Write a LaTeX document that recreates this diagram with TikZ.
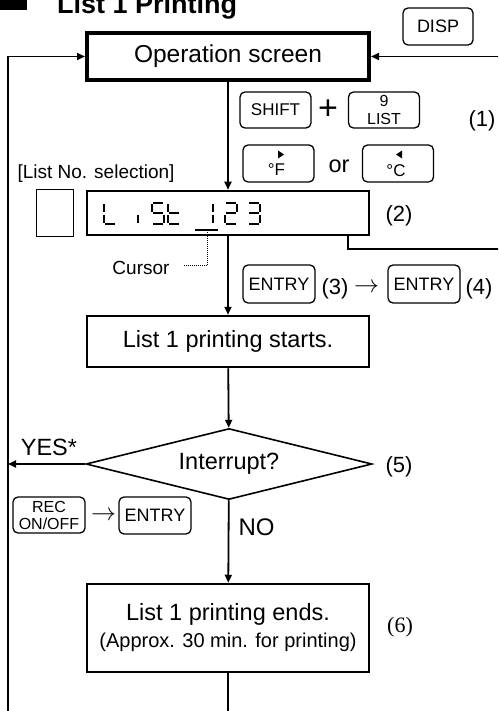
\documentclass[tikz,border=0pt]{standalone}
\usepackage{fontspec}
\setmainfont{Liberation Sans}
\newfontfamily\numserif{Liberation Serif}
\usetikzlibrary{arrows.meta,shapes.geometric}
\newcommand{\fsz}[2]{\fontsize{#1}{#2}\selectfont}

\begin{document}
\begin{tikzpicture}[x=1pt,y=-1pt,
  flow/.style={line width=1.8pt,-{Triangle[length=8pt,width=7pt]}},
  stepbox/.style={draw,line width=2.5pt,minimum width=282pt,inner sep=0pt,font=\fsz{23.5}{27},align=center},
  keycap/.style={draw,rounded corners=5pt,line width=1.3pt,minimum width=71pt,minimum height=36pt,inner sep=0pt,align=center},
  keytxt/.style={inner sep=0pt,font=\fsz{17}{18}},
  lbl/.style={inner sep=0pt,font=\fsz{22}{22}},
  lcdseg/.style={line width=2pt},
  lcd a/.pic={\draw[lcdseg] (1.2,0) -- (10.8,0);},
  lcd b/.pic={\draw[lcdseg] (12,1.2) -- (12,9.3);},
  lcd c/.pic={\draw[lcdseg] (12,11.7) -- (12,19.8);},
  lcd d/.pic={\draw[lcdseg] (1.2,21) -- (10.8,21);},
  lcd e/.pic={\draw[lcdseg] (0,11.7) -- (0,19.8);},
  lcd f/.pic={\draw[lcdseg] (0,1.2) -- (0,9.3);},
  lcd g/.pic={\draw[lcdseg] (1.2,10.5) -- (10.8,10.5);}]
\path[use as bounding box,clip] (0,0) rectangle (498,711);

\fill (0,-20) rectangle (27,10);
\node[anchor=base west,inner sep=0pt,font=\bfseries\fsz{27}{27}] (title) at (57,14) {List 1 Printing};

\node[stepbox,line width=4pt,minimum height=47pt,font=\fsz{24.5}{27}] (opscreen) at (228,56.5) {Operation screen};
\node[keycap,minimum width=70pt,minimum height=37pt,font=\fsz{18}{18}] (disp) at (438,26.5) {DISP};

\node[keycap,font=\fsz{17}{17}] (shift) at (275.5,110) {SHIFT};
\node[lbl,font=\fsz{34}{34}] (plus) at (328,110) {+};
\node[keycap,font=\fsz{16}{18}] (listkey) at (384,110) {9\\LIST};
\node[lbl] (stepone) at (482,121) {(1)};

\node[keycap,minimum height=37pt] (fkey) at (278.5,163.5) {};
\fill[shift={(fkey.center)}] (-0.5,-13) -- (5.5,-9) -- (-0.5,-5) -- cycle;
\node[keytxt,anchor=base] (ftxt) at ([xshift=-2pt,yshift=-12.5pt]fkey.center) {°F};
\node[lbl,font=\fsz{23.5}{24}] (or) at (339,166.5) {or};
\node[keycap,minimum height=37pt] (ckey) at (398,163.5) {};
\fill[shift={(ckey.center)}] (4,-13) -- (-2,-9) -- (4,-5) -- cycle;
\node[keytxt,anchor=base] (ctxt) at ([xshift=-2pt,yshift=-13pt]ckey.center) {°C};

\node[lbl,font=\fsz{19}{19}] (selhead) at (96,173.5) {[List No. selection]};
\node[draw,line width=1pt,minimum width=37pt,minimum height=47pt] (blank) at (55,213) {};
\node[stepbox,minimum height=44pt] (lcd) at (228,213) {};
\foreach \cx/\segs in {104/{f,e,d},138/{e},152/{a,f,g,c,d},168/{f,e,g,d},201/{b,c},225/{a,b,g,e,d},248/{a,b,g,c,d}}
  \foreach \s in \segs \pic at (\cx,203) {lcd \s};
\draw[lcdseg] (195,230) -- (218,230);
\coordinate (cursor) at (207,231.5);
\node[lbl] (steptwo) at (399,216) {(2)};

\node[lbl,font=\fsz{19}{19}] (cursorlbl) at (141,268) {Cursor};
\draw[line width=0.9pt,dash pattern=on 1pt off 1pt] ([xshift=14pt,yshift=2.5pt]cursorlbl.east) -| (cursor);

\node[keycap,minimum width=72pt,minimum height=38pt,font=\fsz{18}{18}] (entryA) at (279,284) {ENTRY};
\node[lbl] (stepthree) at (335,289) {(3)};
\node[lbl,font=\fsz{23}{23}] (arrowA) at (366.5,288) {$\rightarrow$};
\node[keycap,minimum width=72pt,minimum height=38pt,font=\fsz{18}{18}] (entryB) at (424,284) {ENTRY};
\node[lbl] (stepfour) at (479,289) {(4)};

\node[stepbox,minimum height=51pt] (starts) at (228,341.5) {List 1 printing starts.};

\node[draw,diamond,aspect=4,line width=1.6pt,minimum width=286pt,minimum height=71pt,inner sep=0pt,font=\fsz{23.5}{24}] (interrupt) at (229,464) {Interrupt?};
\node[lbl] (stepfive) at (399,467) {(5)};

\node[keycap,minimum width=72pt,font=\fsz{16}{17}] (reckey) at (49,515) {REC\\ON/OFF};
\node[lbl,font=\fsz{23}{23}] (arrowB) at (103.5,516) {$\rightarrow$};
\node[keycap,minimum width=72pt,minimum height=37pt,font=\fsz{18}{18}] (entryC) at (155,515.5) {ENTRY};

\node[stepbox,minimum height=88pt] (ends) at (228,628) {List 1 printing ends.\\{\fsz{20}{27}(Approx. 30 min. for printing)}};
\node[lbl,font=\numserif\fsz{22}{22}] (stepsix) at (400,627) {(6)};

\coordinate (loopcorner) at (8,725);
\coordinate (rightcorner) at (506,249);
\draw[flow] (opscreen) -- (lcd);
\draw[flow] (lcd) -- (starts);
\draw[flow] (starts) -- (interrupt);
\draw[flow] (interrupt) -- node[lbl,font=\fsz{24}{24},anchor=west,pos=0.33,xshift=9pt] {NO} (ends);
\draw[flow] (interrupt.west) -- node[lbl,font=\fsz{23.5}{24},above=7pt,pos=0.47] {YES*} (interrupt.west -| loopcorner);
\draw[flow] (ends) |- (loopcorner) |- (opscreen);
\draw[flow] ([xshift=-22pt]lcd.south east) |- (rightcorner) |- (opscreen);
\end{tikzpicture}
\end{document}
